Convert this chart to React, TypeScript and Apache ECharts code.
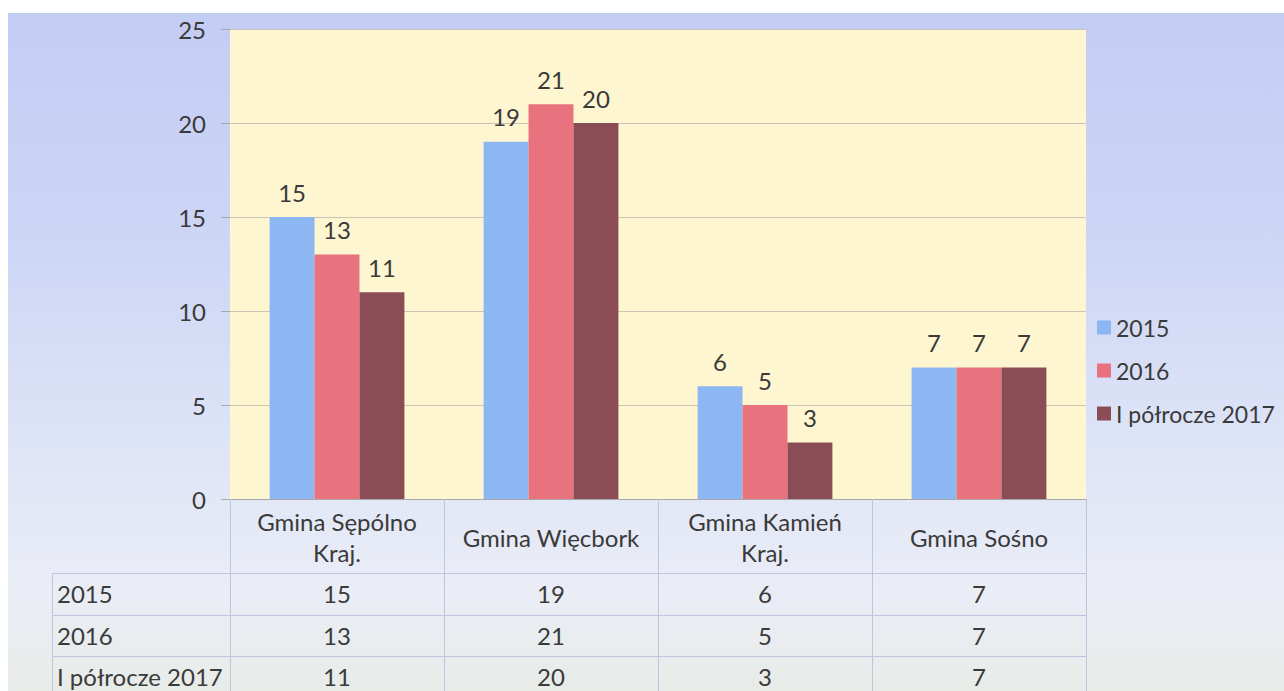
import React, { useEffect, useRef } from "react";
import * as echarts from "echarts";

// ---- data ----
const categories = ["Gmina Sępólno\nKraj.", "Gmina Więcbork", "Gmina Kamień\nKraj.", "Gmina Sośno"];
const seriesNames = ["2015", "2016", "I półrocze 2017"];
const values2015 = [15, 19, 6, 7];
const values2016 = [13, 21, 5, 7];
const valuesH1_2017 = [11, 20, 3, 7];
const seriesValues = [values2015, values2016, valuesH1_2017];
const seriesColors = ["#8db7f2", "#e8737f", "#8b4d55"];
const yMin = 0;
const yMax = 25;
const yInterval = 5;

// ---- layout ----
const FONT = "Lato, 'Open Sans', 'Noto Sans', sans-serif";
const FS = 24;
const TEXT = "#3a3a3a";
const TABLE_LINE = "#c0c4de";
const GRID_LEFT = 230;
const GRID_TOP = 29;
const GRID_W = 856;
const GRID_H = 470;
const TABLE_LEFT = 52;
const ROW_TOPS = [573, 615, 656];
const ROW_H = 41;

export default function App() {
  const ref = useRef<HTMLDivElement>(null);

  useEffect(() => {
    if (!ref.current) return;
    const chart = echarts.init(ref.current, null, { renderer: "svg" });
    const option: any = {
      animation: false,
      backgroundColor: "transparent",
      grid: {
        left: GRID_LEFT,
        top: GRID_TOP,
        width: GRID_W,
        height: GRID_H,
        show: true,
        backgroundColor: "#fdf6d0",
        borderWidth: 0,
        containLabel: false,
      },
      legend: {
        orient: "vertical",
        left: 1097,
        top: 316,
        padding: 0,
        itemWidth: 14,
        itemHeight: 14,
        itemGap: 20,
        icon: "rect",
        textStyle: { fontFamily: FONT, fontSize: 23, color: TEXT },
        data: seriesNames,
      },
      xAxis: {
        type: "category",
        data: categories,
        boundaryGap: true,
        axisLine: { show: true, lineStyle: { color: "#a8a8a8", width: 1 } },
        axisTick: { show: true, alignWithLabel: false, length: 192, lineStyle: { color: TABLE_LINE } },
        axisLabel: {
          fontFamily: FONT,
          fontSize: FS,
          color: TEXT,
          lineHeight: 31,
          verticalAlign: "middle",
          margin: 38,
          interval: 0,
        },
        splitLine: { show: false },
      },
      yAxis: {
        type: "value",
        min: yMin,
        max: yMax,
        interval: yInterval,
        axisLine: { show: false },
        axisTick: { show: true, length: 9, lineStyle: { color: "#a8a8a8" } },
        axisLabel: { fontFamily: FONT, fontSize: FS, color: TEXT, margin: 24 },
        splitLine: { show: true, lineStyle: { color: "#cbc5b6", width: 1 } },
      },
      series: seriesNames.map((name, i) => ({
        name,
        type: "bar",
        data: seriesValues[i],
        barGap: "0%",
        barCategoryGap: "37%",
        itemStyle: { color: seriesColors[i] },
        label: {
          show: true,
          position: "top",
          distance: 13,
          fontFamily: FONT,
          fontSize: FS,
          color: TEXT,
        },
      })),
    };
    chart.setOption(option);

    // data table under the chart
    const gridRight = GRID_LEFT + GRID_W;
    const elements: any[] = [];
    ROW_TOPS.forEach((y) => {
      elements.push({
        type: "line",
        shape: { x1: TABLE_LEFT, y1: y + 0.5, x2: gridRight, y2: y + 0.5 },
        style: { stroke: TABLE_LINE, lineWidth: 1 },
      });
    });
    elements.push({
      type: "line",
      shape: { x1: TABLE_LEFT + 0.5, y1: ROW_TOPS[0], x2: TABLE_LEFT + 0.5, y2: 691 },
      style: { stroke: TABLE_LINE, lineWidth: 1 },
    });
    seriesNames.forEach((name, r) => {
      const cy = ROW_TOPS[r] + ROW_H / 2;
      elements.push({
        type: "text",
        x: TABLE_LEFT + 5,
        y: cy,
        style: { text: name, fontFamily: FONT, fontSize: FS, fill: TEXT, verticalAlign: "middle", align: "left" },
      });
      seriesValues[r].forEach((v, c) => {
        const px = chart.convertToPixel({ gridIndex: 0 }, [c, 0]) as number[];
        elements.push({
          type: "text",
          x: px[0],
          y: cy,
          style: { text: String(v), fontFamily: FONT, fontSize: FS, fill: TEXT, verticalAlign: "middle", align: "center" },
        });
      });
    });
    chart.setOption({ graphic: { elements } });

    return () => chart.dispose();
  }, []);

  return (
    <div style={{ position: "fixed", left: 0, top: 0, width: 1284, height: 691, background: "#ffffff", overflow: "hidden" }}>
      <div
        style={{
          position: "absolute",
          left: 8,
          top: 13,
          right: 0,
          bottom: 0,
          background: "linear-gradient(180deg, #c3cdf4 0%, #cdd6f5 35%, #dfe5f7 65%, #eaedf6 85%, #e8ece8 100%)",
        }}
      />
      <div ref={ref} style={{ position: "absolute", left: 0, top: 0, width: 1284, height: 691 }} />
    </div>
  );
}
